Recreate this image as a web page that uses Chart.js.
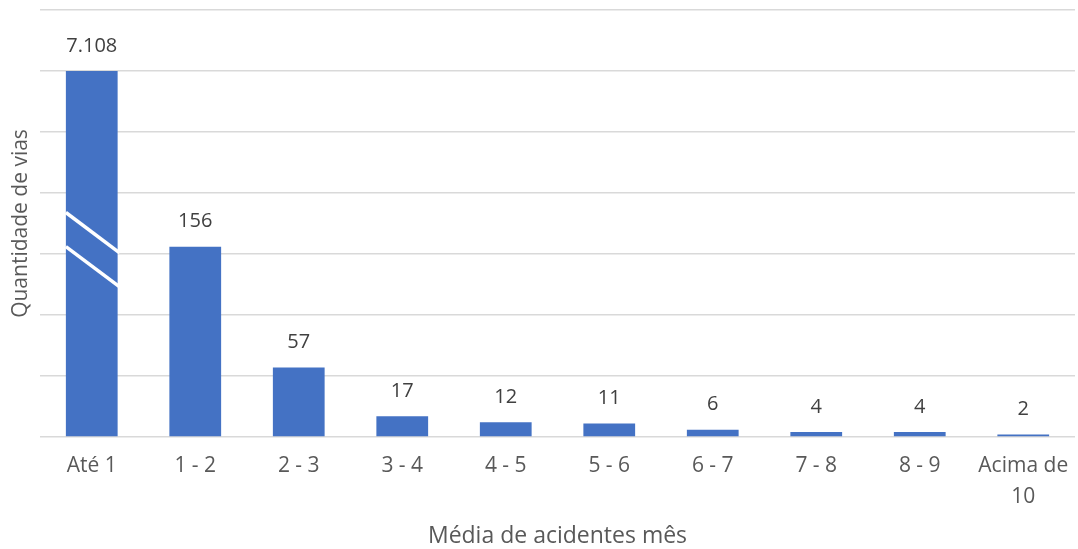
<!DOCTYPE html>
<html>
<head>
<meta charset="utf-8">
<script src="https://cdn.jsdelivr.net/npm/chart.js@4/dist/chart.umd.min.js"></script>
<style>
  html, body { margin: 0; padding: 0; background: #fff; }
  #wrap { width: 1078px; height: 549px; position: relative; }
</style>
</head>
<body>
<div id="wrap"><canvas id="c"></canvas></div>
<script>
// Faixas de média mensal de acidentes e quantidade de vias em cada faixa
const categories = ['Até 1', '1 - 2', '2 - 3', '3 - 4', '4 - 5', '5 - 6', '6 - 7', '7 - 8', '8 - 9', ['Acima de', '10']];
const quantidadeVias = [7108, 156, 57, 17, 12, 11, 6, 4, 4, 2];

// Eixo com quebra: valores acima do máximo são desenhados até o ponto de corte
const axisBreakAt = 300;
const axisMax = 350;
const axisStep = 50;
// Posição (em unidades do eixo) das duas marcas de quebra na barra cortada
const breakMarks = [[184, 151], [156, 123]];

class BrokenLinearScale extends Chart.LinearScale {
  getPixelForValue(value) {
    return super.getPixelForValue(value > axisMax ? axisBreakAt : value);
  }
}
BrokenLinearScale.id = 'brokenLinear';
BrokenLinearScale.defaults = Chart.LinearScale.defaults;
Chart.register(BrokenLinearScale);

const FONT = '"Open Sans", "Liberation Sans", sans-serif';
const fmt = new Intl.NumberFormat('pt-BR');

const valueLabels = {
  id: 'valueLabels',
  afterDatasetsDraw(chart) {
    const ctx = chart.ctx;
    const meta = chart.getDatasetMeta(0);
    ctx.save();
    ctx.fillStyle = '#404040';
    ctx.font = '20px ' + FONT;
    ctx.textAlign = 'center';
    ctx.textBaseline = 'middle';
    meta.data.forEach((bar, i) => {
      ctx.fillText(fmt.format(quantidadeVias[i]), bar.x, bar.y - 25);
    });
    ctx.restore();
  }
};

const breakLines = {
  id: 'breakLines',
  afterDatasetsDraw(chart) {
    const ctx = chart.ctx;
    const y = chart.scales.y;
    const meta = chart.getDatasetMeta(0);
    ctx.save();
    ctx.strokeStyle = '#ffffff';
    ctx.lineWidth = 3.5;
    meta.data.forEach((bar, i) => {
      if (quantidadeVias[i] <= axisMax) return;
      const left = bar.x - bar.width / 2;
      const right = bar.x + bar.width / 2 + 2;
      breakMarks.forEach(([a, b]) => {
        ctx.beginPath();
        ctx.moveTo(left, y.getPixelForValue(a));
        ctx.lineTo(right, y.getPixelForValue(b));
        ctx.stroke();
      });
    });
    ctx.restore();
  }
};

new Chart(document.getElementById('c'), {
  type: 'bar',
  data: {
    labels: categories,
    datasets: [{
      data: quantidadeVias,
      backgroundColor: '#4472C4',
      borderWidth: 0,
      categoryPercentage: 1.0,
      barPercentage: 0.5
    }]
  },
  options: {
    responsive: true,
    maintainAspectRatio: false,
    animation: false,
    layout: { padding: { top: 10, right: 3, left: 0, bottom: 0 } },
    plugins: { legend: { display: false }, tooltip: { enabled: false } },
    scales: {
      x: {
        grid: { display: false, drawTicks: false },
        border: { display: false },
        ticks: {
          color: '#595959',
          font: { family: FONT, size: 21, lineHeight: 1.45 },
          padding: 14,
          maxRotation: 0,
          autoSkip: false
        },
        title: {
          display: true,
          text: 'Média de acidentes mês',
          color: '#595959',
          font: { family: FONT, size: 23, lineHeight: 1.05 },
          padding: { top: 0, bottom: 0 }
        },
        afterFit(s) {
          s.height = 112;
          s.paddingLeft = 0;
          s.paddingRight = 0;
        }
      },
      y: {
        type: 'brokenLinear',
        min: 0,
        max: axisMax,
        ticks: { display: false, stepSize: axisStep },
        grid: { color: '#d9d9d9', lineWidth: 1.5, drawTicks: false },
        border: { display: false },
        title: {
          display: true,
          text: 'Quantidade de vias',
          color: '#595959',
          font: { family: FONT, size: 21 },
          padding: { top: 8, bottom: 0 }
        },
        afterFit(s) { s.width = 40; }
      }
    }
  },
  plugins: [breakLines, valueLabels]
});
</script>
</body>
</html>
